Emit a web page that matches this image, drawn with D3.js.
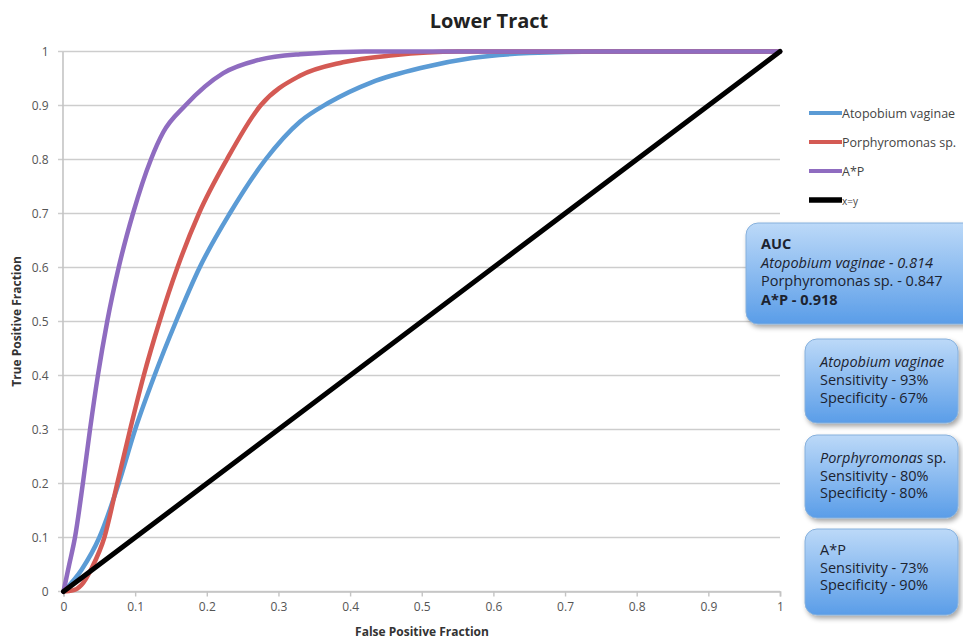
<!DOCTYPE html>
<html>
<head>
<meta charset="utf-8">
<script src="https://cdn.jsdelivr.net/npm/d3@7"></script>
<style>
  html, body { margin: 0; padding: 0; background: #fff; }
  svg { display: block; font-family: "Open Sans", "Noto Sans", sans-serif; }
</style>
</head>
<body>
<svg id="chart" width="963" height="639"></svg>
<script>
// ---- Data ----
const seriesNames = ["Atopobium vaginae", "Porphyromonas sp.", "A*P", "x=y"];
const seriesColors = ["#5b9bd5", "#d45a54", "#8f6cc0", "#000000"];

const atopobiumFPR = [0, 0.025, 0.05, 0.077, 0.1, 0.127, 0.157, 0.19, 0.232, 0.282, 0.33, 0.37, 0.43, 0.5, 0.57, 0.65, 0.75, 1];
const atopobiumTPR = [0, 0.04, 0.1, 0.2, 0.3, 0.4, 0.5, 0.6, 0.7, 0.8, 0.87, 0.905, 0.943, 0.97, 0.988, 0.997, 1, 1];

const porphyFPR = [0, 0.013, 0.025, 0.04, 0.057, 0.075, 0.093, 0.112, 0.134, 0.159, 0.189, 0.228, 0.275, 0.33, 0.39, 0.46, 0.55, 1];
const porphyTPR = [0, 0.002, 0.012, 0.045, 0.1, 0.2, 0.3, 0.4, 0.5, 0.6, 0.7, 0.8, 0.9, 0.955, 0.98, 0.993, 1, 1];

const apFPR = [0, 0.008, 0.016, 0.027, 0.037, 0.048, 0.061, 0.077, 0.097, 0.122, 0.139, 0.17, 0.223, 0.274, 0.33, 0.42, 1];
const apTPR = [0, 0.05, 0.1, 0.2, 0.3, 0.4, 0.5, 0.6, 0.7, 0.8, 0.85, 0.9, 0.96, 0.985, 0.995, 1, 1];

const diagFPR = [0, 1];
const diagTPR = [0, 1];

const xTicks = [0, 0.1, 0.2, 0.3, 0.4, 0.5, 0.6, 0.7, 0.8, 0.9, 1];
const yTicks = [0, 0.1, 0.2, 0.3, 0.4, 0.5, 0.6, 0.7, 0.8, 0.9, 1];

const titleText = "Lower Tract";
const xTitle = "False Positive Fraction";
const yTitle = "True Positive Fraction";

// info boxes: each line = [text, style]
const aucLines = [["AUC", "bold"], ["Atopobium vaginae - 0.814", "italic"], ["Porphyromonas sp. - 0.847", "normal"], ["A*P - 0.918", "bold"]];
const atoLines = [["Atopobium vaginae", "italic"], ["Sensitivity - 93%", "normal"], ["Specificity - 67%", "normal"]];
const porLines = [["Porphyromonas sp.", "mixed"], ["Sensitivity - 80%", "normal"], ["Specificity - 80%", "normal"]];
const apLines = [["A*P", "normal"], ["Sensitivity - 73%", "normal"], ["Specificity - 90%", "normal"]];

// ---- Layout ----
const svg = d3.select("#chart");
const x = d3.scaleLinear().domain([0, 1]).range([63.5, 780]);
const y = d3.scaleLinear().domain([0, 1]).range([591.5, 51.5]);

// defs: gradient + shadow
const defs = svg.append("defs");
const grad = defs.append("linearGradient").attr("id", "boxGrad").attr("x1", 0).attr("y1", 0).attr("x2", 0).attr("y2", 1);
grad.append("stop").attr("offset", "0%").attr("stop-color", "#bcd9f8");
grad.append("stop").attr("offset", "100%").attr("stop-color", "#5a9de8");
const flt = defs.append("filter").attr("id", "shadow").attr("x", "-10%").attr("y", "-10%").attr("width", "130%").attr("height", "140%");
flt.append("feDropShadow").attr("dx", 2).attr("dy", 3).attr("stdDeviation", 2.5).attr("flood-color", "#000").attr("flood-opacity", 0.35);

// gridlines
svg.append("g").selectAll("line").data(yTicks).join("line")
  .attr("x1", 58).attr("x2", x(1))
  .attr("y1", d => y(d)).attr("y2", d => y(d))
  .attr("stroke", "#cdcdcd").attr("stroke-width", 1.6);

// axes
const xAxis = d3.axisBottom(x).tickValues(xTicks).tickFormat(d3.format("~g")).tickSize(5).tickPadding(6);
const yAxis = d3.axisLeft(y).tickValues(yTicks).tickFormat(d3.format("~g")).tickSize(0).tickPadding(14);

const gx = svg.append("g").attr("transform", `translate(0,${y(0)})`).call(xAxis);
gx.select(".domain").attr("stroke", "#c4c4c4").attr("stroke-width", 1.6);
gx.selectAll(".tick line").attr("stroke", "#c4c4c4").attr("stroke-width", 1.4);
gx.selectAll(".tick text").attr("fill", "#555").style("font-size", "12px").style("font-family", "'Open Sans', sans-serif");

const gy = svg.append("g").attr("transform", `translate(${x(0) - 1},0)`).call(yAxis);
gy.select(".domain").attr("stroke", "#c4c4c4").attr("stroke-width", 1.6);
gy.selectAll(".tick text").attr("fill", "#555").style("font-size", "12px").style("font-family", "'Open Sans', sans-serif");

// curves
const seriesData = [
  d3.zip(atopobiumFPR, atopobiumTPR),
  d3.zip(porphyFPR, porphyTPR),
  d3.zip(apFPR, apTPR),
  d3.zip(diagFPR, diagTPR)
];
const line = d3.line().x(d => x(d[0])).y(d => y(d[1])).curve(d3.curveMonotoneX);
const widths = [4.5, 4.5, 4.5, 5];
seriesData.forEach((s, i) => {
  svg.append("path").datum(s).attr("d", line)
    .attr("fill", "none").attr("stroke", seriesColors[i])
    .attr("stroke-width", widths[i]).attr("stroke-linecap", "round").attr("stroke-linejoin", "round");
});

// title
svg.append("text").attr("x", 489).attr("y", 28).attr("text-anchor", "middle")
  .style("font-size", "20px").style("font-weight", "bold").attr("fill", "#222").text(titleText);

// axis titles
svg.append("text").attr("x", 422).attr("y", 636).attr("text-anchor", "middle")
  .style("font-size", "12px").style("font-weight", "bold").attr("fill", "#333").text(xTitle);
svg.append("text").attr("transform", `translate(21,${y(0.5)}) rotate(-90)`).attr("text-anchor", "middle")
  .style("font-size", "12px").style("font-weight", "bold").attr("fill", "#333").text(yTitle);

// legend
const legY = [113, 142, 171, 200];
const leg = svg.append("g");
seriesNames.forEach((n, i) => {
  leg.append("line").attr("x1", 809).attr("x2", 842).attr("y1", legY[i]).attr("y2", legY[i])
    .attr("stroke", seriesColors[i]).attr("stroke-width", i === 3 ? 5.5 : 4);
  leg.append("text").attr("x", 842).attr("y", legY[i] + 4.5)
    .style("font-size", i === 3 ? "10px" : "12.5px").attr("fill", "#444").text(n);
});

// info boxes
function infoBox(bx, by, bw, bh, lines, tx, ty0, dy) {
  const g = svg.append("g");
  g.append("rect").attr("x", bx).attr("y", by).attr("width", bw).attr("height", bh)
    .attr("rx", 12).attr("ry", 12)
    .attr("fill", "url(#boxGrad)").attr("stroke", "#86b0dc").attr("stroke-width", 1)
    .attr("filter", "url(#shadow)");
  lines.forEach((l, i) => {
    const t = g.append("text").attr("x", tx).attr("y", ty0 + i * dy)
      .style("font-size", "14.5px").attr("fill", "#1c2330");
    if (l[1] === "mixed") {
      const parts = l[0].split(" ");
      t.append("tspan").style("font-style", "italic").text(parts[0]);
      t.append("tspan").text(" " + parts.slice(1).join(" "));
    } else {
      if (l[1] === "bold") t.style("font-weight", "bold");
      if (l[1] === "italic") t.style("font-style", "italic");
      t.text(l[0]);
    }
  });
}
infoBox(746, 223, 230, 101, aucLines, 761, 249, 18.5);
infoBox(805, 339, 153, 84, atoLines, 820, 367, 18);
infoBox(805, 435, 153, 83, porLines, 820, 463, 17.5);
infoBox(805, 529, 153, 86, apLines, 820, 555, 17.5);
</script>
</body>
</html>
